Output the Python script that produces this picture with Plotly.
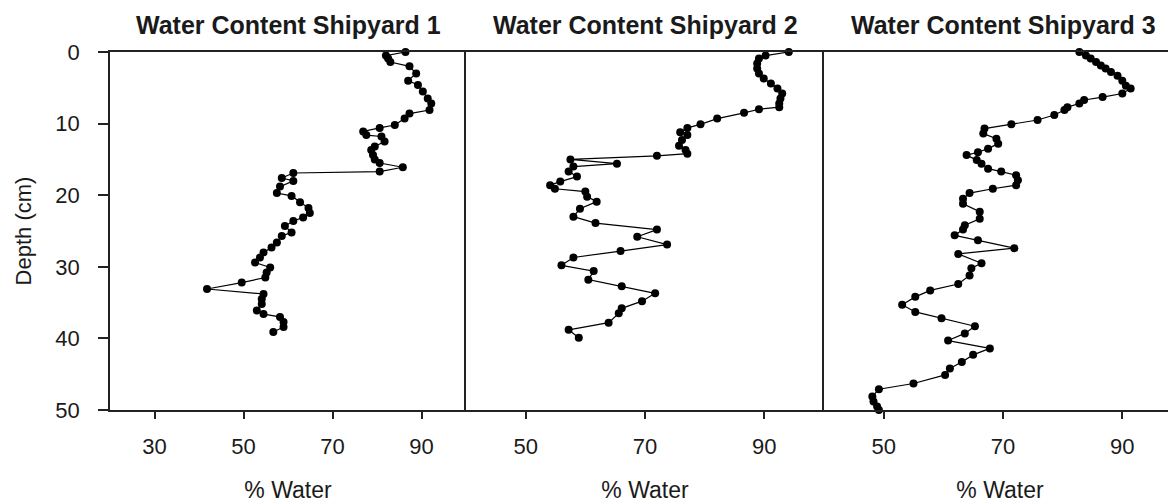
import plotly.graph_objects as go

# Shipyard 1
water1 = [86.4, 82.0, 82.5, 83.0, 87.3, 88.8, 87.0, 89.2, 90.3, 91.4, 92.2, 91.8, 87.3, 86.2, 84.0,
          80.6, 76.9, 77.6, 81.0, 81.7, 79.5, 78.7, 79.1, 79.5, 80.6, 85.8, 80.6, 61.2, 58.6, 61.2,
          58.2, 57.5, 60.8, 62.7, 64.6, 64.9, 63.4, 61.2, 59.3, 60.8, 58.6, 57.5, 56.3, 54.5, 53.7,
          52.6, 56.0, 55.2, 54.9, 49.6, 41.8, 54.5, 54.1, 54.1, 53.0, 54.5, 58.2, 59.0, 59.0, 56.7]
depth1 = [0.0, 0.5, 0.9, 1.4, 2.0, 3.0, 4.0, 4.6, 5.5, 6.5, 7.2, 8.1, 8.6, 9.3, 10.2,
          10.6, 11.1, 11.6, 11.8, 12.5, 13.2, 13.7, 14.4, 15.0, 15.5, 16.1, 16.7, 16.9, 17.6, 18.0,
          18.8, 19.7, 20.1, 21.0, 21.8, 22.5, 23.1, 23.6, 24.3, 25.2, 25.7, 26.6, 27.3, 28.0, 28.7,
          29.4, 30.1, 30.8, 31.5, 32.2, 33.1, 33.8, 34.5, 35.2, 36.1, 36.6, 37.0, 37.7, 38.4, 39.1]

# Shipyard 2
water2 = [94.1, 90.2, 89.1, 88.8, 88.8, 89.1, 89.9, 91.1, 92.2, 93.0, 92.7, 92.5, 92.5, 89.1, 86.6,
          82.1, 79.3, 77.1, 75.9, 77.1, 76.2, 75.7, 76.8, 77.1, 72.0, 57.5, 65.3, 58.0, 57.2, 58.6,
          55.8, 54.1, 54.9, 60.0, 60.3, 61.9, 59.1, 58.0, 61.7, 72.0, 68.7, 73.7, 65.9, 58.0, 56.0,
          61.4, 60.5, 66.1, 71.7, 69.5, 66.1, 65.6, 63.9, 57.2, 58.9]
depth2 = [0.0, 0.5, 0.9, 1.6, 2.3, 3.0, 3.7, 4.4, 5.1, 5.8, 6.5, 7.2, 7.7, 8.0, 8.5,
          9.3, 10.1, 10.6, 11.2, 11.6, 12.3, 13.1, 13.7, 14.2, 14.5, 15.0, 15.6, 16.0, 16.7, 17.4,
          18.1, 18.6, 19.1, 19.5, 20.2, 20.9, 21.9, 23.0, 23.9, 24.8, 25.8, 26.9, 27.8, 28.7, 29.8,
          30.6, 31.8, 32.7, 33.7, 34.8, 35.8, 36.5, 37.8, 38.8, 39.9]

# Shipyard 3
water3 = [82.8, 83.9, 84.7, 85.6, 86.4, 87.2, 88.1, 89.2, 90.0, 90.6, 91.4, 90.0, 86.7, 83.6, 82.8,
          80.8, 80.3, 78.6, 75.8, 71.4, 66.9, 66.7, 68.9, 69.2, 67.5, 65.8, 63.9, 65.6, 66.4, 67.5,
          69.7, 72.2, 72.5, 72.2, 68.3, 64.4, 63.3, 63.3, 66.1, 66.1, 63.6, 63.3, 61.9, 65.8, 71.9,
          62.5, 66.4, 64.7, 64.4, 62.5, 57.8, 55.3, 53.1, 55.3, 59.7, 65.3, 63.6, 60.8, 67.8, 65.0,
          63.1, 61.1, 60.3, 55.0, 49.2, 48.1, 48.3, 48.9, 49.2]
depth3 = [0.0, 0.5, 0.9, 1.4, 1.9, 2.3, 2.8, 3.3, 4.0, 4.7, 5.1, 5.8, 6.3, 6.7, 7.2,
          7.7, 8.1, 8.8, 9.5, 10.1, 10.7, 11.4, 12.1, 12.8, 13.5, 14.0, 14.4, 15.1, 15.6, 16.3,
          16.7, 17.2, 17.9, 18.6, 19.1, 19.7, 20.5, 21.2, 22.3, 23.3, 24.2, 24.8, 25.6, 26.3, 27.4,
          28.2, 29.5, 30.2, 31.2, 32.4, 33.3, 34.2, 35.3, 36.3, 37.2, 38.3, 39.3, 40.3, 41.4, 42.3,
          43.3, 44.2, 45.1, 46.3, 47.1, 48.1, 48.8, 49.5, 50.0]

titles = ["Water Content Shipyard 1", "Water Content Shipyard 2", "Water Content Shipyard 3"]
x_ranges = [[20, 100], [40, 100], [40, 99]]
x_title = "% Water"
y_title = "Depth (cm)"
y_ticks = [0, 10, 20, 30, 40, 50]

# the page body has an 8px margin, so the figure is sized to fit the window
W, H = 1168, 495
ml, mr, mt, mb = 102, 0, 44, 93
pw = W - ml - mr
edges = [0, 356 / pw, 714 / pw, 1.0]

FONT = "Liberation Sans, Arial, sans-serif"
INK = "#1a1a1a"

fig = go.Figure()
series = [(water1, depth1), (water2, depth2), (water3, depth3)]
for i, (xs, ys) in enumerate(series):
    sfx = "" if i == 0 else str(i + 1)
    fig.add_trace(go.Scatter(
        x=xs, y=ys, mode="lines+markers",
        line=dict(color="black", width=1.2),
        marker=dict(color="black", size=8, symbol="circle"),
        xaxis="x" + sfx, yaxis="y" + sfx, showlegend=False, cliponaxis=False,
    ))
    xa = dict(
        domain=[edges[i], edges[i + 1]], range=x_ranges[i], anchor="y" + sfx,
        showline=True, linecolor="#222", linewidth=1.5, mirror=True,
        ticks="outside", ticklen=7, tickcolor="#222", tickwidth=1.5,
        tick0=10, dtick=20, showgrid=False, zeroline=False,
        tickfont=dict(family=FONT, size=22, color=INK), ticklabelstandoff=9,
        title=dict(text=x_title, font=dict(family=FONT, size=23, color=INK), standoff=24),
    )
    ya = dict(
        domain=[0, 1], range=[50, 0], anchor="x" + sfx,
        showline=True, linecolor="#222", linewidth=1.5,
        showgrid=False, zeroline=False,
    )
    if i == 0:
        ya.update(ticks="outside", ticklen=10, tickcolor="#222", tickwidth=1.5,
                  tickvals=y_ticks, tickfont=dict(family=FONT, size=22, color=INK),
                  ticklabelstandoff=14,
                  title=dict(text=y_title, font=dict(family=FONT, size=22, color=INK), standoff=18))
    else:
        ya.update(showticklabels=False, ticks="")
    fig.layout["xaxis" + sfx] = xa
    fig.layout["yaxis" + sfx] = ya
    fig.add_annotation(
        text="<b>" + titles[i] + "</b>", xref="x" + sfx + " domain", yref="paper",
        x=0.5 if i < 2 else 0.5 * (1182 - 824) / (1176 - 824), y=1, yshift=27,
        xanchor="center", yanchor="middle", showarrow=False,
        font=dict(family=FONT, size=25, color=INK),
    )

fig.update_layout(
    width=W, height=H, margin=dict(l=ml, r=mr, t=mt, b=mb),
    paper_bgcolor="white", plot_bgcolor="white",
)
fig.write_html("out.html")
